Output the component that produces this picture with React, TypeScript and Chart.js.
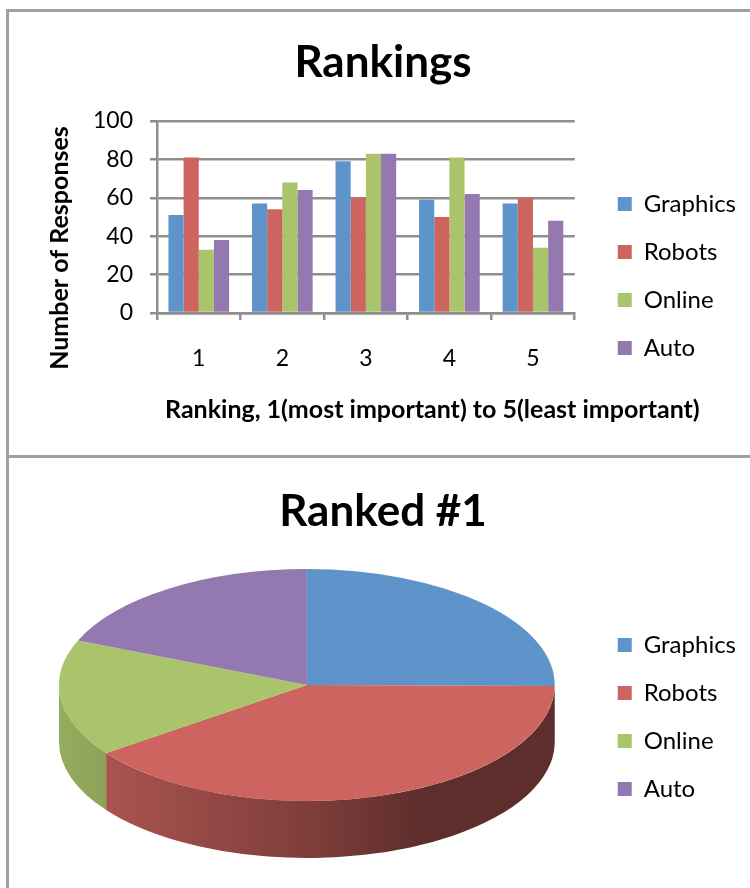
import React, { useEffect, useRef } from "react";
import { Chart, registerables } from "chart.js";

Chart.register(...registerables);

// ---------- data ----------
const categories = ["1", "2", "3", "4", "5"];
const seriesNames = ["Graphics", "Robots", "Online", "Auto"];
const graphics = [51, 57, 79, 59, 57];
const robots = [81, 54, 60, 50, 60];
const online = [33, 68, 83, 81, 34];
const auto = [38, 64, 83, 62, 48];
const yTicks = [0, 20, 40, 60, 80, 100];
const pieLabels = ["Graphics", "Robots", "Online", "Auto"];
const rankedFirst = [51, 81, 33, 38];

const barTitle = "Rankings";
const pieTitle = "Ranked #1";
const xAxisTitle = "Ranking, 1(most important) to 5(least important)";
const yAxisTitle = "Number of Responses";

// ---------- style ----------
const FONT = "Lato, 'Open Sans', 'DejaVu Sans', sans-serif";
const COLORS = ["#5E94C9", "#CD645F", "#A9C46B", "#9479B1"];
const GRID = "#8E8E8E";
const CW = 760;
const BAR_H = 443;
const PIE_H = 430;
const LEGEND_FONT = 24;
const LEGEND_BOX = 14;
const LEGEND_PAD = 24;
const PAD_L = 11;
const PAD_R = 23;

Chart.defaults.font.family = FONT;
Chart.defaults.color = "#000";

const shade = (hex: string, f: number) => {
  const n = parseInt(hex.slice(1), 16);
  const r = (n >> 16) & 255, g = (n >> 8) & 255, b = n & 255;
  return `rgb(${Math.round(r * f)},${Math.round(g * f)},${Math.round(b * f)})`;
};

const axisTitlesPlugin = {
  id: "axisTitles",
  afterDraw(chart: any) {
    const { ctx, chartArea } = chart;
    ctx.save();
    ctx.fillStyle = "#000";
    ctx.font = `bold 25px ${FONT}`;
    ctx.textBaseline = "middle";
    ctx.textAlign = "left";
    ctx.fillText(xAxisTitle, chartArea.left + 8, chartArea.bottom + 97);
    ctx.translate(chartArea.left - 97, (chartArea.top + chartArea.bottom) / 2 + 31);
    ctx.rotate(-Math.PI / 2);
    ctx.textAlign = "center";
    ctx.fillText(yAxisTitle, 0, 0);
    ctx.restore();
  },
};

const WIDTH_FACTOR = 0.864;
const TILT = 0.468;
const DEPTH = 0.23;

const pie3dPlugin = {
  id: "pie3d",
  beforeDatasetsDraw(chart: any) {
    const meta = chart.getDatasetMeta(0);
    const arcs = meta.data as any[];
    if (!arcs.length) return;
    const { ctx, chartArea } = chart;
    const cx = arcs[0].x, cy = arcs[0].y, r = arcs[0].outerRadius;
    const rx = (chartArea.width / 2) * WIDTH_FACTOR;
    const ry = rx * TILT;
    const depth = rx * DEPTH;
    const bg = chart.data.datasets[0].backgroundColor as string[];
    ctx.save();
    arcs.forEach((arc: any, i: number) => {
      const s = Math.max(arc.startAngle, 0);
      const e = Math.min(arc.endAngle, Math.PI);
      if (e <= s) return;
      const grad = ctx.createLinearGradient(cx - rx, 0, cx + rx, 0);
      grad.addColorStop(0, shade(bg[i], 0.88));
      grad.addColorStop(0.5, shade(bg[i], 0.62));
      grad.addColorStop(0.73, shade(bg[i], 0.46));
      grad.addColorStop(1, shade(bg[i], 0.46));
      ctx.beginPath();
      ctx.ellipse(cx, cy, rx, ry, 0, s, e, false);
      ctx.ellipse(cx, cy + depth, rx, ry, 0, e, s, true);
      ctx.closePath();
      ctx.fillStyle = grad;
      ctx.fill();
    });
    ctx.restore();
    ctx.save();
    ctx.translate(cx, cy);
    ctx.scale(rx / r, ry / r);
    ctx.translate(-cx, -cy);
    chart.$pie3dActive = true;
  },
  afterDatasetsDraw(chart: any) {
    if (chart.$pie3dActive) {
      chart.ctx.restore();
      chart.$pie3dActive = false;
    }
  },
};

export default function App() {
  const barRef = useRef<HTMLCanvasElement>(null);
  const pieRef = useRef<HTMLCanvasElement>(null);

  useEffect(() => {
    const legendLabels = {
      boxWidth: LEGEND_BOX,
      boxHeight: LEGEND_BOX,
      padding: LEGEND_PAD,
      font: { size: LEGEND_FONT, family: FONT },
      color: "#000",
    };

    const seriesData = [graphics, robots, online, auto];
    const bar = new Chart(barRef.current!, {
      type: "bar",
      data: {
        labels: categories,
        datasets: seriesNames.map((name, i) => ({
          label: name,
          data: seriesData[i],
          backgroundColor: COLORS[i],
          borderWidth: 0,
          categoryPercentage: 0.726,
          barPercentage: 1,
          yAxisID: "y",
        })),
      },
      options: {
        animation: false,
        responsive: false,
        devicePixelRatio: 1,
        layout: { padding: { left: PAD_L, right: PAD_R, top: 0, bottom: 0 } },
        plugins: {
          title: {
            display: true,
            text: barTitle,
            color: "#000",
            font: { size: 44, weight: "bold", family: FONT },
            padding: { top: 24.6, bottom: 31.6 },
          },
          legend: {
            position: "right",
            labels: legendLabels,
            title: { display: true, text: "", font: { size: 12 }, padding: { top: 70.6, bottom: 0 } },
          },
          tooltip: { enabled: false },
        },
        scales: {
          x: {
            grid: {
              display: true,
              drawOnChartArea: false,
              drawTicks: true,
              tickLength: 7,
              color: GRID,
              lineWidth: 2.5,
              offset: true,
            },
            border: { display: true, color: GRID, width: 2.5 },
            ticks: { font: { size: 23, family: FONT }, color: "#000", padding: 25 },
            afterFit: (s: any) => {
              s.height = BAR_H - 301;
            },
          },
          y: {
            min: 0,
            max: 100,
            afterBuildTicks: (s: any) => {
              s.ticks = yTicks.map((v) => ({ value: v }));
            },
            ticks: { font: { size: 23, family: FONT }, color: "#000", padding: 17 },
            grid: { color: GRID, lineWidth: 2.5, tickLength: 7 },
            border: { display: true, color: GRID, width: 2.5 },
            afterFit: (s: any) => {
              s.width = 148 - PAD_L;
            },
          },
          y2: {
            position: "right",
            display: false,
            afterFit: (s: any) => {
              s.width = 19;
            },
          },
        },
      } as any,
      plugins: [axisTitlesPlugin],
    });

    const pie = new Chart(pieRef.current!, {
      type: "pie",
      data: {
        labels: pieLabels,
        datasets: [
          {
            data: rankedFirst,
            backgroundColor: COLORS,
            borderWidth: 0,
            clip: false,
          } as any,
        ],
      },
      options: {
        animation: false,
        responsive: false,
        devicePixelRatio: 1,
        layout: { padding: { left: PAD_L, right: PAD_R, top: 0, bottom: 63 } },
        plugins: {
          title: {
            display: true,
            text: pieTitle,
            color: "#000",
            font: { size: 44, weight: "bold", family: FONT },
            padding: { top: 27, bottom: 7.2 },
          },
          legend: {
            position: "right",
            align: "end",
            labels: legendLabels,
          },
          tooltip: { enabled: false },
        },
      } as any,
      plugins: [pie3dPlugin],
    });

    return () => {
      bar.destroy();
      pie.destroy();
    };
  }, []);

  return (
    <div
      style={{
        position: "fixed",
        left: 0,
        top: 0,
        width: 750,
        height: 888,
        overflow: "hidden",
        background: "#fff",
      }}
    >
      <div
        style={{
          position: "absolute",
          left: 6,
          top: 9,
          width: 800,
          height: 449,
          border: "3px solid #A0A0A0",
          boxSizing: "border-box",
        }}
      />
      <div
        style={{
          position: "absolute",
          left: 6,
          top: 455,
          width: 800,
          height: 500,
          border: "3px solid #A0A0A0",
          boxSizing: "border-box",
        }}
      />
      <canvas
        ref={barRef}
        width={CW}
        height={BAR_H}
        style={{ position: "absolute", left: 9, top: 12, width: CW, height: BAR_H, display: "block" }}
      />
      <canvas
        ref={pieRef}
        width={CW}
        height={PIE_H}
        style={{ position: "absolute", left: 9, top: 458, width: CW, height: PIE_H, display: "block" }}
      />
    </div>
  );
}
